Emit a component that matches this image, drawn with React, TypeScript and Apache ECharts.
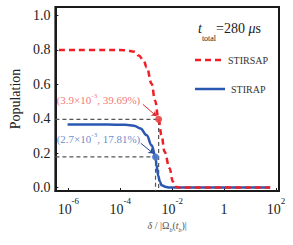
import React, { useEffect, useRef } from "react";
import * as echarts from "echarts";

// log10(delta/|Omega_b(t_b)|)
const stirsapX = [-6.36, -4.5, -3.8, -3.45, -3.29, -3.1, -2.98, -2.79, -2.66, -2.52, -2.41, -2.29, -2.1, -1.97, -1.86, -1.75, 1.78];
const stirsapY = [0.8, 0.8, 0.799, 0.79, 0.768, 0.739, 0.7, 0.604, 0.507, 0.397, 0.304, 0.208, 0.113, 0.034, 0.005, 0.0, 0.0];
const stirapX = [-6.03, -4.5, -3.8, -3.47, -3.22, -2.98, -2.79, -2.64, -2.6, -2.54, -2.47, -2.41, -2.23, -2.12, 1.78];
const stirapY = [0.366, 0.366, 0.365, 0.36, 0.343, 0.304, 0.246, 0.178, 0.13, 0.07, 0.035, 0.014, 0.003, 0.0, 0.0];
const redPoint = [-2.52, 0.3969];
const bluePoint = [-2.64, 0.1781];
const xTicks = [-6, -4, -2, 0, 2];
const yTicks = [0, 0.2, 0.4, 0.6, 0.8, 1.0];
const legendNames = ["STIRSAP", "STIRAP"];
const X_MIN = -6.5, X_MAX = 2.12, Y_MIN = -0.02, Y_MAX = 1.05;

const RED = "#ee1f26";
const BLUE = "#2a58b0";
const FONT = "Liberation Serif";

export default function App() {
  const ref = useRef<HTMLDivElement>(null);
  useEffect(() => {
    const chart = echarts.init(ref.current!, null, { renderer: "svg" });
    const zip = (xs: number[], ys: number[]) => xs.map((x, i) => [x, ys[i]]);
    const guide = (p: number[], color: string) => ({
      type: "line",
      silent: true,
      symbol: "none",
      lineStyle: { color, width: 1.2, type: [4, 3] },
      data: [[X_MIN, p[1]], [p[0], p[1]], [p[0], Y_MIN]],
      z: 1,
    });
    chart.setOption({
      animation: false,
      textStyle: { fontFamily: FONT },
      grid: { left: 49, right: 14, top: 7, bottom: 54, show: true, borderColor: "#1a1a1a", borderWidth: 2, backgroundColor: "transparent" },
      title: {
        text: "{t|t}{sub|total}{n|=280 }{t|μ}{n|s}",
        left: 193,
        top: 16,
        textStyle: {
          fontWeight: "normal",
          rich: {
            t: { fontFamily: FONT, fontStyle: "italic", fontWeight: "normal", fontSize: 14, color: "#222", lineHeight: 18, verticalAlign: "top" },
            n: { fontFamily: FONT, fontWeight: "normal", fontSize: 14, color: "#222", lineHeight: 18, verticalAlign: "top" },
            sub: { fontFamily: FONT, fontWeight: "normal", fontSize: 8, color: "#222", lineHeight: 10, verticalAlign: "bottom", padding: [0, 0, -3, 0] },
          },
        },
      },
      graphic: [
        { type: "line", shape: { x1: 195, y1: 60, x2: 225, y2: 60 }, style: { stroke: RED, lineWidth: 2.5, lineDash: [6, 4] } },
        { type: "text", x: 228, y: 60, style: { text: legendNames[0], fontFamily: FONT, fontSize: 10, fill: "#333", verticalAlign: "middle" } },
        { type: "line", shape: { x1: 195, y1: 89, x2: 225, y2: 89 }, style: { stroke: BLUE, lineWidth: 2.5 } },
        { type: "text", x: 231, y: 89, style: { text: legendNames[1], fontFamily: FONT, fontSize: 10, fill: "#333", verticalAlign: "middle" } },
      ],
      xAxis: {
        type: "value",
        min: X_MIN,
        max: X_MAX,
        splitLine: { show: false },
        axisLine: { show: true, onZero: false, lineStyle: { color: "#1a1a1a", width: 2 } },
        axisTick: { show: true, inside: true, length: 3, customValues: xTicks, lineStyle: { color: "#1a1a1a" } },
        axisLabel: {
          customValues: xTicks,
          margin: 5,
          formatter: (v: number) => (v === 0 ? "{b|1}" : `{b|10}{s|${v}}`),
          rich: {
            b: { fontFamily: FONT, fontSize: 14, color: "#222", lineHeight: 20, verticalAlign: "bottom" },
            s: { fontFamily: FONT, fontSize: 9, color: "#222", lineHeight: 10, verticalAlign: "top" },
          },
        },
        name: "{d|δ}{n| / |Ω}{i|b}{n|(}{d|t}{i|b}{n|)|}",
        nameLocation: "middle",
        nameGap: 25,
        nameTextStyle: {
          rich: {
            d: { fontFamily: FONT, fontStyle: "italic", fontSize: 10, color: "#555", lineHeight: 12, verticalAlign: "top" },
            n: { fontFamily: FONT, fontSize: 10, color: "#555", lineHeight: 12, verticalAlign: "top" },
            i: { fontFamily: FONT, fontStyle: "italic", fontSize: 6, color: "#555", lineHeight: 6, verticalAlign: "bottom" },
          },
        },
      },
      yAxis: {
        type: "value",
        min: Y_MIN,
        max: Y_MAX,
        splitLine: { show: false },
        axisLine: { show: true, onZero: false, lineStyle: { color: "#1a1a1a", width: 2 } },
        axisTick: { show: true, inside: true, length: 3, customValues: yTicks, lineStyle: { color: "#1a1a1a" } },
        axisLabel: {
          customValues: yTicks,
          margin: 5,
          fontFamily: FONT,
          fontSize: 14,
          color: "#222",
          formatter: (v: number) => v.toFixed(1),
        },
        name: "Population",
        nameLocation: "middle",
        nameGap: 32,
        nameTextStyle: { fontFamily: FONT, fontSize: 14, color: "#222" },
      },
      series: [
        guide(redPoint, "#555"),
        guide(bluePoint, "#555"),
        {
          name: legendNames[0],
          type: "line",
          data: zip(stirsapX, stirsapY),
          symbol: "none",
          smooth: 0.4,
          smoothMonotone: "x",
          lineStyle: { color: RED, width: 2.5, type: [6, 4] },
          itemStyle: { color: RED },
          z: 3,
        },
        {
          name: legendNames[1],
          type: "line",
          data: zip(stirapX, stirapY),
          symbol: "none",
          smooth: 0.4,
          smoothMonotone: "x",
          lineStyle: { color: BLUE, width: 2.5 },
          itemStyle: { color: BLUE },
          z: 2,
        },
        {
          type: "scatter",
          data: [redPoint],
          symbolSize: 7,
          itemStyle: { color: "#e84545", opacity: 0.9 },
          z: 4,
          markLine: {
            silent: true,
            symbol: ["none", "arrow"],
            symbolSize: 5,
            label: { show: false },
            lineStyle: { color: "#d83030", width: 1, type: "solid" },
            data: [[{ coord: [-3.13, 0.484] }, { coord: [-2.6, 0.415] }]],
          },
        },
        {
          type: "scatter",
          data: [bluePoint],
          symbolSize: 7,
          itemStyle: { color: "#4a78c8", opacity: 0.9 },
          z: 4,
          markLine: {
            silent: true,
            symbol: ["none", "arrow"],
            symbolSize: 5,
            label: { show: false },
            lineStyle: { color: "#2a4a9a", width: 1, type: "solid" },
            data: [[{ coord: [-3.21, 0.258] }, { coord: [-2.72, 0.198] }]],
          },
        },
        {
          type: "scatter",
          data: [[-4.84, 0.513], [-4.84, 0.29]],
          symbolSize: 0,
          silent: true,
          label: {
            show: true,
            position: "inside",
            formatter: (p: any) =>
              p.dataIndex === 0 ? "{r|(3.9×10}{rs|-3}{r|, 39.69%)}" : "{b|(2.7×10}{bs|-3}{b|, 17.81%)}",
            rich: {
              r: { fontFamily: FONT, fontSize: 11, color: "#f05050", lineHeight: 13, verticalAlign: "bottom" },
              rs: { fontFamily: FONT, fontSize: 7, color: "#f05050", lineHeight: 8, verticalAlign: "top" },
              b: { fontFamily: FONT, fontSize: 11, color: "#3f6cc0", lineHeight: 13, verticalAlign: "bottom" },
              bs: { fontFamily: FONT, fontSize: 7, color: "#3f6cc0", lineHeight: 8, verticalAlign: "top" },
            },
          },
        },
      ],
    });
    return () => chart.dispose();
  }, []);
  return <div ref={ref} style={{ width: 293, height: 245, position: "absolute", left: 0, top: 0 }} />;
}
